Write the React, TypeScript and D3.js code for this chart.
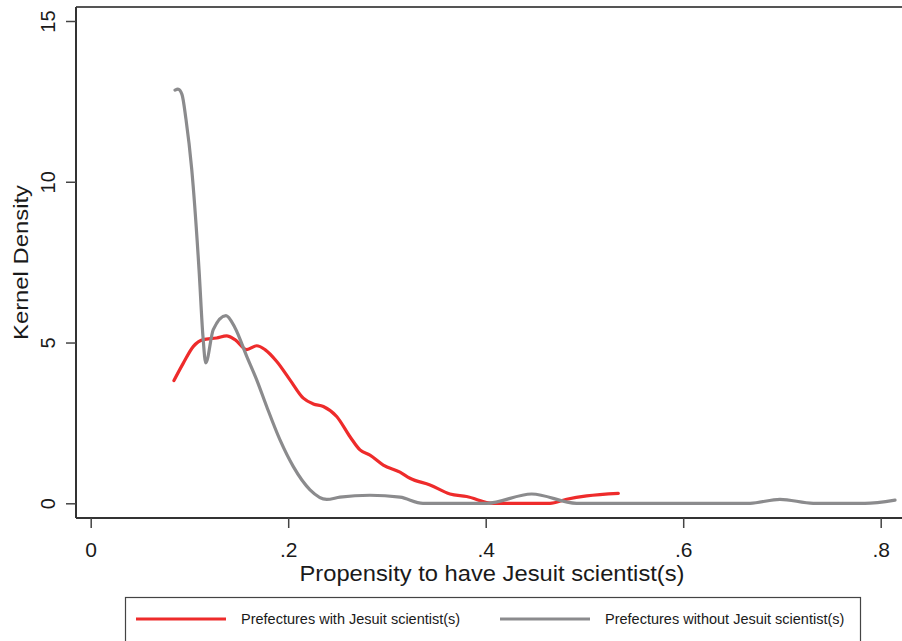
import { useEffect, useRef } from "react";
import * as d3 from "d3";

// propensity (x) / kernel density (y)
const withX = [0.0843, 0.0938, 0.104, 0.114, 0.1276, 0.1377, 0.1461, 0.158, 0.1681, 0.1765, 0.1884, 0.2018, 0.2153, 0.2254, 0.2356, 0.2491, 0.2626, 0.2727, 0.2828, 0.2963, 0.3132, 0.3233, 0.3436, 0.3638, 0.3807, 0.4077, 0.4351, 0.4651, 0.482, 0.5023, 0.5343];
const withY = [3.82, 4.36, 4.88, 5.09, 5.14, 5.21, 5.09, 4.78, 4.9, 4.78, 4.41, 3.84, 3.27, 3.09, 3.01, 2.7, 2.07, 1.66, 1.5, 1.19, 0.97, 0.78, 0.57, 0.29, 0.21, 0.0, 0.0, 0.0, 0.125, 0.23, 0.31];

const withoutX = [0.0854, 0.0884, 0.0924, 0.0965, 0.1023, 0.1097, 0.1137, 0.1165, 0.1241, 0.137, 0.1461, 0.158, 0.1681, 0.1782, 0.1917, 0.2052, 0.2221, 0.239, 0.2524, 0.2828, 0.3132, 0.3365, 0.37, 0.401, 0.4466, 0.492, 0.58, 0.6677, 0.698, 0.7317, 0.76, 0.784, 0.8145];
const withoutY = [12.85, 12.88, 12.72, 11.94, 10.39, 7.27, 5.18, 4.37, 5.4, 5.84, 5.46, 4.57, 3.84, 3.01, 1.97, 1.14, 0.42, 0.12, 0.19, 0.25, 0.19, 0.0, 0.0, 0.0, 0.29, 0.0, 0.0, 0.0, 0.125, 0.0, 0.0, 0.0, 0.1];

const xTicks = [0, 0.2, 0.4, 0.6, 0.8];
const xTickLabels = ["0", ".2", ".4", ".6", ".8"];
const yTicks = [0, 5, 10, 15];

const seriesNames = ["Prefectures with Jesuit scientist(s)", "Prefectures without Jesuit scientist(s)"];
const seriesColors = ["#ee2b2b", "#8b8b8d"];

const App = () => {
  const svgRef = useRef<SVGSVGElement | null>(null);

  useEffect(() => {
    if (!svgRef.current) return;
    const svg = d3.select(svgRef.current);
    svg.selectAll("*").remove();

    const left = 76;
    const top = 7;
    const bottom = 518;
    const right = 902;
    const font = "'Liberation Sans', Arial, sans-serif";
    const ink = "#1a1a1a";

    const x = d3.scaleLinear().domain([0, 0.8]).range([90.7, 880.7]);
    const y = d3.scaleLinear().domain([0, 15]).range([503.3, 21]);

    // frame: top line, left axis, bottom axis
    svg.append("line").attr("x1", left).attr("x2", right).attr("y1", top).attr("y2", top)
      .attr("stroke", "#555").attr("stroke-width", 2);

    const yAxis = svg.append("g").attr("transform", `translate(${left},0)`)
      .call(d3.axisLeft(y).tickValues(yTicks).tickSize(10).tickFormat(d3.format("d")));
    yAxis.select(".domain").attr("d", `M0,${top}V${bottom}`).attr("stroke", "#333").attr("stroke-width", 2);
    yAxis.selectAll(".tick line").attr("stroke", "#444").attr("stroke-width", 1.5);
    yAxis.selectAll(".tick text")
      .attr("x", null).attr("dy", null)
      .attr("transform", "translate(-21,0) rotate(-90)")
      .attr("text-anchor", "middle")
      .attr("font-family", font).attr("font-size", 20).attr("fill", ink);

    const xAxis = svg.append("g").attr("transform", `translate(0,${bottom})`)
      .call(d3.axisBottom(x).tickValues(xTicks).tickSize(10)
        .tickFormat((_, i) => xTickLabels[i]));
    xAxis.select(".domain").attr("d", `M${left},0H${right}`).attr("stroke", "#333").attr("stroke-width", 2);
    xAxis.selectAll(".tick line").attr("stroke", "#444").attr("stroke-width", 1.5);
    xAxis.selectAll(".tick text")
      .attr("y", 39).attr("dy", null)
      .attr("font-family", font).attr("font-size", 21).attr("fill", ink);

    svg.append("text").attr("x", 492).attr("y", 581).attr("text-anchor", "middle")
      .attr("font-family", font).attr("font-size", 22).attr("fill", ink)
      .attr("textLength", 385).attr("lengthAdjust", "spacingAndGlyphs")
      .text("Propensity to have Jesuit scientist(s)");

    svg.append("text").attr("transform", `translate(28,${(top + bottom) / 2}) rotate(-90)`)
      .attr("text-anchor", "middle")
      .attr("font-family", font).attr("font-size", 21).attr("fill", ink)
      .attr("textLength", 155).attr("lengthAdjust", "spacingAndGlyphs")
      .text("Kernel Density");

    const line = d3.line<[number, number]>()
      .x((d) => x(d[0]))
      .y((d) => y(d[1]))
      .curve(d3.curveMonotoneX);

    const series: [number, number][][] = [
      withX.map((v, i) => [v, withY[i]]),
      withoutX.map((v, i) => [v, withoutY[i]]),
    ];

    series.forEach((pts, i) => {
      svg.append("path").datum(pts)
        .attr("d", line)
        .attr("fill", "none")
        .attr("stroke", seriesColors[i])
        .attr("stroke-width", 3.2)
        .attr("stroke-linejoin", "round")
        .attr("stroke-linecap", "round");
    });

    // legend
    const lg = svg.append("g");
    lg.append("rect").attr("x", 125.5).attr("y", 597.5).attr("width", 735).attr("height", 60)
      .attr("fill", "white").attr("stroke", "#444").attr("stroke-width", 1.2);
    const legendX = [136, 500];
    seriesNames.forEach((name, i) => {
      lg.append("line").attr("x1", legendX[i]).attr("x2", legendX[i] + 90)
        .attr("y1", 619).attr("y2", 619)
        .attr("stroke", seriesColors[i]).attr("stroke-width", 3.2);
      lg.append("text").attr("x", legendX[i] + 105).attr("y", 624)
        .attr("font-family", font).attr("font-size", 14.5).attr("fill", ink)
        .text(name);
    });
  }, []);

  return (
    <svg
      ref={svgRef}
      width={902}
      height={641}
      style={{ position: "absolute", left: 0, top: 0, background: "white" }}
    ></svg>
  );
};

export default App;
